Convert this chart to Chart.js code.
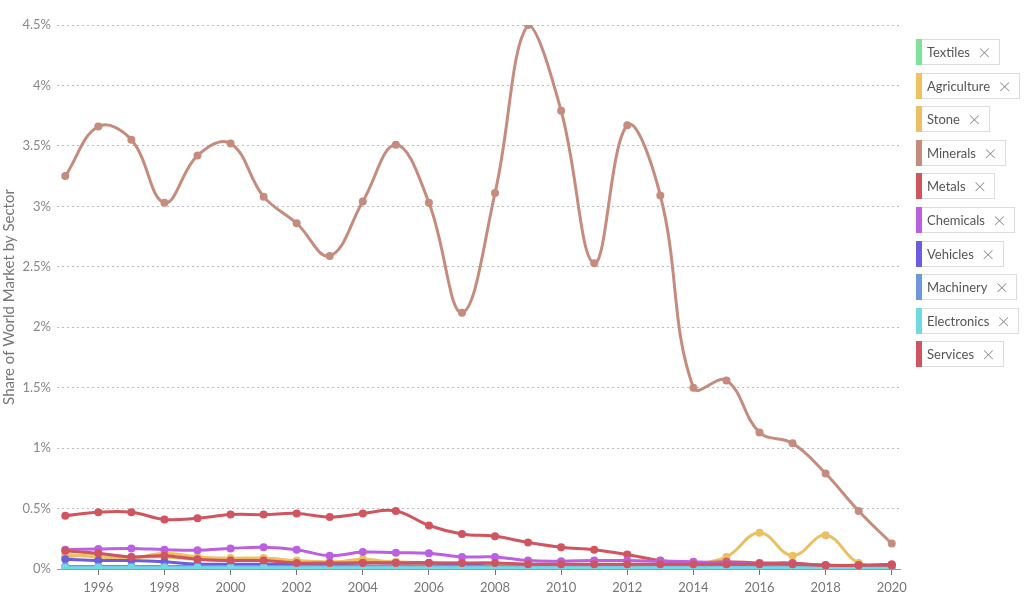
<!DOCTYPE html>
<html>
<head>
<meta charset="utf-8">
<script src="https://cdn.jsdelivr.net/npm/chart.js@4.4.0/dist/chart.umd.min.js"></script>
<style>
  html, body { margin: 0; padding: 0; background: #fff; }
  #wrap { position: relative; width: 1024px; height: 598px; }
  #chart { position: absolute; left: 0; top: 0; }
  #legend { position: absolute; left: 916px; top: 39px; font-family: Lato, "Noto Sans", sans-serif; font-size: 13px; color: #555; }
  .item { position: absolute; left: 0; height: 26px; display: flex; align-items: stretch; white-space: nowrap; }
  .bar { width: 6px; }
  .box { border: 1px solid #ddd; border-left: none; display: flex; align-items: center; padding: 0 8px 0 5px; background: #fff; }
  .x { margin-left: 8px; color: #888; font-size: 22px; font-weight: 300; line-height: 1; }
</style>
</head>
<body>
<div id="wrap">
  <canvas id="chart" width="1024" height="598"></canvas>
  <div id="legend"></div>
</div>
<script>
const years = [1995, 1996, 1997, 1998, 1999, 2000, 2001, 2002, 2003, 2004, 2005, 2006, 2007,
  2008, 2009, 2010, 2011, 2012, 2013, 2014, 2015, 2016, 2017, 2018, 2019, 2020];
const xTicks = [1996, 1998, 2000, 2002, 2004, 2006, 2008, 2010, 2012, 2014, 2016, 2018, 2020];
const yTicks = [0, 0.5, 1, 1.5, 2, 2.5, 3, 3.5, 4, 4.5];

const sectors = ['Textiles', 'Agriculture', 'Stone', 'Minerals', 'Metals', 'Chemicals',
  'Vehicles', 'Machinery', 'Electronics', 'Services'];
const colors = ['#7fe29b', '#eec25f', '#ebbf62', '#c58c7e', '#d0555f', '#bb60e0',
  '#6b5ce0', '#6f97e0', '#70dae4', '#cd5460'];

// share of world market, %
const textiles =    [0.01, 0.01, 0.01, 0.01, 0.01, 0.01, 0.01, 0.01, 0.01, 0.01, 0.01, 0.01, 0.01,
  0.01, 0.01, 0.01, 0.01, 0.01, 0.01, 0.01, 0.01, 0.01, 0.01, 0.01, 0.01, 0.01];
const agriculture = [0.12, 0.10, 0.09, 0.13, 0.10, 0.09, 0.09, 0.07, 0.06, 0.07, 0.06, 0.05, 0.05,
  0.04, 0.04, 0.03, 0.03, 0.03, 0.03, 0.03, 0.03, 0.03, 0.03, 0.03, 0.03, 0.03];
const stone =       [0.10, 0.12, 0.10, 0.10, 0.08, 0.07, 0.08, 0.05, 0.05, 0.08, 0.05, 0.04, 0.04,
  0.03, 0.03, 0.03, 0.03, 0.03, 0.03, 0.04, 0.10, 0.30, 0.11, 0.28, 0.05, 0.03];
const minerals =    [3.25, 3.66, 3.55, 3.03, 3.42, 3.52, 3.08, 2.86, 2.59, 3.04, 3.51, 3.03, 2.12,
  3.11, 4.50, 3.79, 2.53, 3.67, 3.09, 1.50, 1.56, 1.13, 1.04, 0.79, 0.48, 0.21];
const metals =      [0.44, 0.47, 0.47, 0.41, 0.42, 0.45, 0.45, 0.46, 0.43, 0.46, 0.48, 0.36, 0.29,
  0.27, 0.22, 0.18, 0.16, 0.12, 0.07, 0.05, 0.06, 0.05, 0.05, 0.03, 0.03, 0.04];
const chemicals =   [0.16, 0.165, 0.17, 0.16, 0.155, 0.17, 0.18, 0.16, 0.11, 0.14, 0.135, 0.13, 0.10,
  0.10, 0.07, 0.065, 0.07, 0.07, 0.065, 0.06, 0.05, 0.04, 0.04, 0.03, 0.02, 0.03];
const vehicles =    [0.08, 0.07, 0.07, 0.06, 0.04, 0.04, 0.04, 0.04, 0.04, 0.05, 0.05, 0.05, 0.04,
  0.02, 0.02, 0.02, 0.02, 0.02, 0.02, 0.02, 0.02, 0.02, 0.02, 0.02, 0.02, 0.02];
const machinery =   [0.02, 0.02, 0.02, 0.02, 0.02, 0.02, 0.02, 0.02, 0.02, 0.02, 0.02, 0.02, 0.02,
  0.02, 0.02, 0.02, 0.02, 0.02, 0.02, 0.02, 0.02, 0.02, 0.02, 0.02, 0.02, 0.02];
const electronics = [0.01, 0.01, 0.01, 0.01, 0.01, 0.01, 0.01, 0.01, 0.01, 0.01, 0.01, 0.01, 0.01,
  0.01, 0.01, 0.01, 0.01, 0.01, 0.01, 0.01, 0.01, 0.01, 0.01, 0.01, 0.01, 0.01];
const services =    [0.15, 0.13, 0.10, 0.11, 0.08, 0.07, 0.07, 0.05, 0.05, 0.05, 0.05, 0.05, 0.05,
  0.05, 0.04, 0.04, 0.04, 0.04, 0.04, 0.04, 0.04, 0.04, 0.04, 0.03, 0.03, 0.03];

const series = [textiles, agriculture, stone, minerals, metals, chemicals,
  vehicles, machinery, electronics, services];

const font = "Lato, 'Noto Sans', sans-serif";

// later sectors drawn on top (cyan electronics sits over the others near 0%)
const datasets = sectors.map((name, i) => ({
  label: name,
  data: years.map((y, j) => ({ x: y, y: series[i][j] })),
  borderColor: colors[i],
  backgroundColor: colors[i],
  borderWidth: 3,
  pointRadius: 4,
  pointBorderWidth: 0,
  tension: 0.4,
  fill: false,
  order: sectors.length - i
}));

// html legend, same look as the reference boxes
const legend = document.getElementById('legend');
sectors.forEach((name, i) => {
  const item = document.createElement('div');
  item.className = 'item';
  item.style.top = (i * 33.6) + 'px';
  item.innerHTML = `<div class="bar" style="background:${colors[i]}"></div>` +
    `<div class="box">${name}<span class="x">×</span></div>`;
  legend.appendChild(item);
});

new Chart(document.getElementById('chart').getContext('2d'), {
  type: 'line',
  data: { datasets },
  options: {
    responsive: false,
    animation: false,
    layout: { padding: { top: 25, right: 124, bottom: 0, left: 0 } },
    plugins: {
      legend: { display: false },
      tooltip: { enabled: false }
    },
    scales: {
      x: {
        type: 'linear',
        min: 1994.75,
        max: 2020.25,
        afterBuildTicks: scale => { scale.ticks = xTicks.map(v => ({ value: v })); },
        afterFit: scale => { scale.height = 29; },
        grid: { drawOnChartArea: false, drawTicks: true, tickLength: 6, color: '#777' },
        border: { display: true, color: '#999' },
        ticks: {
          color: '#777',
          font: { family: font, size: 13 },
          padding: 5,
          maxRotation: 0,
          callback: v => String(v)
        }
      },
      y: {
        min: 0,
        max: 4.5,
        afterBuildTicks: scale => { scale.ticks = yTicks.map(v => ({ value: v })); },
        afterFit: scale => { scale.width = 57; },
        grid: { color: '#bbb', drawTicks: false, lineWidth: 1 },
        border: { display: false, dash: [2, 3] },
        title: {
          display: true,
          text: 'Share of World Market by Sector',
          color: '#777',
          font: { family: font, size: 15 },
          padding: { top: 0, bottom: 0 }
        },
        ticks: {
          color: '#888',
          font: { family: font, size: 13 },
          padding: 6,
          callback: v => v + '%'
        }
      }
    }
  }
});
</script>
</body>
</html>
